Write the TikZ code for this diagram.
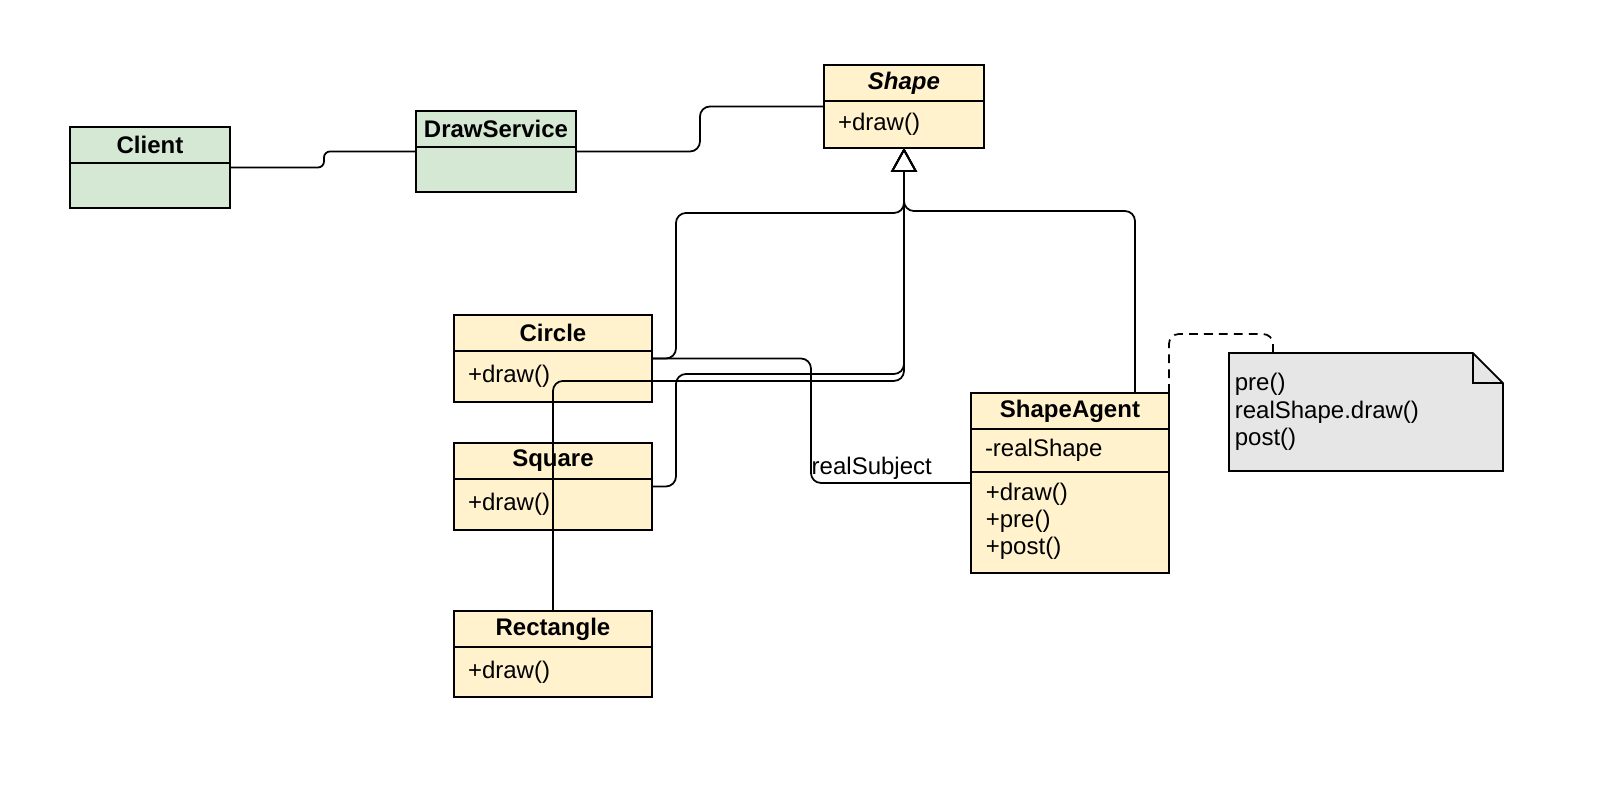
\documentclass[tikz,border=0pt]{standalone}
\usepackage{fontspec}
\setmainfont{Liberation Sans}
\usepackage{xcolor}
\usetikzlibrary{positioning}
\usetikzlibrary{arrows.meta}
\usetikzlibrary{fit}

\definecolor{classgreen}{HTML}{D5E8D4}
\definecolor{classyellow}{HTML}{FFF2CC}
\definecolor{notegray}{HTML}{E6E6E6}
\newcommand{\umlfont}{\fontsize{13.66}{15.6}\selectfont}

\begin{document}
\begin{tikzpicture}[x=0.02cm, y=-0.02cm, line width=1pt, font=\umlfont,
	classname/.style={draw, fill=#1, font=\umlfont\bfseries, minimum height=0.72cm, inner sep=0pt, outer sep=0pt, anchor=north},
	members/.style={draw, fill=#1, align=left, inner xsep=0.28cm, inner ysep=0pt, outer sep=0pt},
	whole/.style={inner sep=0pt, outer sep=0pt},
	notebox/.style={inner sep=0pt, outer sep=0pt, minimum width=5.48cm, minimum height=2.36cm},
	link/.style={rounded corners=0.2cm},
	inherit/.style={rounded corners=0.2cm, -{Triangle[open, length=13.6pt, width=14.8pt]}}]
	\useasboundingbox (0,0) rectangle (1600,788);
	
	% Classes
	\node[classname=classgreen, minimum width=3.2cm, anchor=north west] (client-name) at (70,127) {Client};
	\node[members=classgreen, minimum width=3.2cm, minimum height=0.9cm, below=0pt of client-name] (client-body) {};
	\node[whole, fit=(client-name)(client-body)] (client) {};
	
	\node[classname=classgreen, minimum width=3.2cm, anchor=north west] (service-name) at (416,111) {DrawService};
	\node[members=classgreen, minimum width=3.2cm, minimum height=0.9cm, below=0pt of service-name] (service-body) {};
	\node[whole, fit=(service-name)(service-body)] (service) {};
	
	\node[classname=classyellow, minimum width=3.2cm, anchor=north west, font=\umlfont\bfseries\itshape] (shape-name) at (824,65) {Shape};
	\node[members=classyellow, text width=2.64cm, minimum height=0.94cm, below=0pt of shape-name] (shape-body) {+draw()};
	\node[whole, fit=(shape-name)(shape-body)] (shape) {};
	
	\node[classname=classyellow, minimum width=3.96cm, anchor=north west] (circle-name) at (454,315) {Circle};
	\node[members=classyellow, text width=3.4cm, minimum height=1.02cm, below=0pt of circle-name] (circle-body) {+draw()};
	\node[whole, fit=(circle-name)(circle-body)] (circle) {};
	
	\node[classname=classyellow, minimum width=3.96cm, below=0.82cm of circle] (square-name) {Square};
	\node[members=classyellow, text width=3.4cm, minimum height=1.02cm, below=0pt of square-name] (square-body) {+draw()};
	\node[whole, fit=(square-name)(square-body)] (square) {};
	
	\node[classname=classyellow, minimum width=3.96cm, below=1.62cm of square] (rectangle-name) {Rectangle};
	\node[members=classyellow, text width=3.4cm, minimum height=1.0cm, below=0pt of rectangle-name] (rectangle-body) {+draw()};
	\node[whole, fit=(rectangle-name)(rectangle-body)] (rectangle) {};
	
	\node[classname=classyellow, minimum width=3.96cm, anchor=north west] (agent-name) at (971,393) {ShapeAgent};
	\node[members=classyellow, text width=3.4cm, minimum height=0.86cm, below=0pt of agent-name] (agent-attr) {-realShape};
	\node[members=classyellow, minimum width=3.96cm, minimum height=2.02cm, below=0pt of agent-attr] (agent-ops) {};
	\node[whole, fit=(agent-name)(agent-ops)] (agent) {};
	\node[align=left, inner sep=0pt, anchor=north west, font=\fontsize{13.66}{15.4}\selectfont,
		below right=0.2cm and 0.28cm of agent-ops.north west] (agent-ops-text) {+draw()\\+pre()\\+post()};
	
	% Note
	\node[notebox, anchor=north west] (note) at (1229,353) {};
	\draw[fill=notegray] (note.north west) -- ([xshift=-0.6cm]note.north east) -- ([yshift=-0.6cm]note.north east)
		-- (note.south east) -- (note.south west) -- cycle;
	\draw ([xshift=-0.6cm]note.north east) |- ([yshift=-0.6cm]note.north east);
	\node[align=left, inner sep=0pt, right=0.1cm of note.west] (note-text) {pre()\\realShape.draw()\\post()};
	
	% Connectors
	\draw[link, rounded corners=0.12cm] (client.east) -- ++(94,0) |- (service.west);
	\draw[link] (service.east) -- ++(124,0) |- (shape.west);
	\draw[inherit] (circle.east) -| ++(24,-145.5) -| (shape.south);
	\draw[inherit] (square.east) -| ++(24,-112.5) -| (shape.south);
	\draw[inherit] (rectangle.north) -- ++(0,-230) -| (shape.south);
	\draw[inherit] ([xshift=-0.68cm]agent.north east) -- ++(0,-182) -| (shape.south);
	\draw[link] (circle.east) -- ++(159,0) |- (agent.west) node[pos=0.69, above, inner sep=1.5pt] {realSubject};
	\draw[link, dashed, dash pattern=on 5pt off 3.5pt] (agent.north east) -- ++(0,-59) -| ([xshift=0.88cm]note.north west);
\end{tikzpicture}
\end{document}
